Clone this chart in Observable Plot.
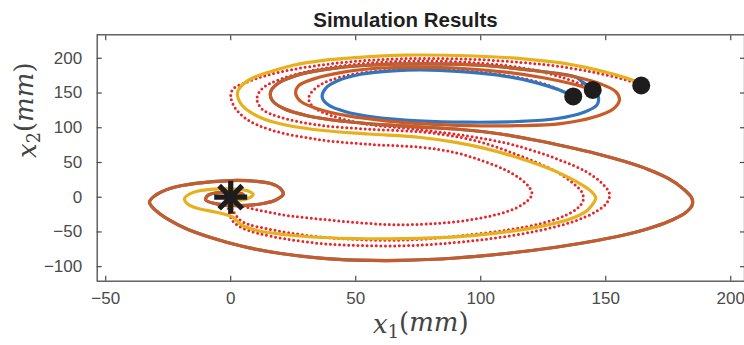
<!DOCTYPE html>
<html><head><meta charset="utf-8">
<script src="https://cdn.jsdelivr.net/npm/d3@7"></script>
<script src="https://cdn.jsdelivr.net/npm/@observablehq/plot@0.6"></script>
<style>
html,body{margin:0;padding:0;background:#fff;}
#chart svg{display:block;}
</style></head><body><div id="chart"></div>
<script>
// ---- text ----
const title = "Simulation Results";
const xLabelParts = ["x", "1", "mm"];
const yLabelParts = ["x", "2", "mm"];
const xTicks = [-50, 0, 50, 100, 150, 200];
const yTicks = [-100, -50, 0, 50, 100, 150, 200];

// ---- trajectories (x1, x2 in mm) ----
const blueTraj = [
  [137,145],[131,155],[122,165],[110,174],[95,180],[80,183],[65,182],[52,177],[43,168],[38,157],[36.6,144],
  [39,133],[46,123],[58,115],[75,110],[95,108],[115,109],[130,113],[141,122],[146.5,133],[147,145],[145,155],[141,165],
  [138,173],[122,182],[100,190],[76,192],[55,190],[38,184],[26,175],[19,164],[16,152],[16.5,140],[21,128],[31,117],
  [46,109],[62,104],[76,101],[92,97.5],[108,91],[122,82],[134,73],[146,63],[157,52],[167,40],[175,27],[181,12],[184.5,-2],
  [184.5,-12],[182,-22],[177,-32],[169,-43],[159,-53],[147,-62],[130,-72],[110,-81],[90,-87.5],[68,-91],[50,-90.5],[37,-88],
  [20,-81],[5,-71],[-8,-58],[-18,-45],[-25,-32],[-30,-19],[-32.5,-7],[-30,3],[-24,13],[-14,20],[0,24],[10,23],[16,19.6],
  [20,12],[21,4],[18,-4],[13,-9],[3,-12],[-5,-10],[-10,-4],[-9,3],[-4,7],[2,7],[5,4],[3,0],[0,0]
];
const orangeTraj = [
  [144.8,154.5],[138,162],[125,172],[110,180],[90,186],[76,187],[60,186],[45,180],[33,170],[27,160],[26,149],[28,138],
  [35,127],[47,117],[62,110],[76,106],[95,103],[115,103],[132,106],[145,115],[153,127],[155.5,140],[154,152],[148,163],
  [138,173],[122,182],[100,190],[76,192],[55,190],[38,184],[26,175],[19,164],[16,152],[16.5,140],[21,128],[31,117],
  [46,109],[62,104],[76,101],[92,97.5],[108,91],[122,82],[134,73],[146,63],[157,52],[167,40],[175,27],[181,12],[184.5,-2],
  [184.5,-12],[182,-22],[177,-32],[169,-43],[159,-53],[147,-62],[130,-72],[110,-81],[90,-87.5],[68,-91],[50,-90.5],[37,-88],
  [20,-81],[5,-71],[-8,-58],[-18,-45],[-25,-32],[-30,-19],[-32.5,-7],[-30,3],[-24,13],[-14,20],[0,24],[10,23],[16,19.6],
  [20,12],[21,4],[18,-4],[13,-9],[3,-12],[-5,-10],[-10,-4],[-9,3],[-4,7],[2,7],[5,4],[3,0],[0,0]
];
const yellowTraj = [
  [164.2,160.8],[161,168],[150,180],[134.5,192],[120,198],[108,201.5],[90,204],[70,204.5],[50,201],[37,197],[25,190],
  [17,182],[9,172],[5,163],[2.8,152],[3,142],[4.6,132],[8,122],[13,113],[22,104],[37,96],[55,91],[76,86],[90,79],
  [102,70],[113,59],[123,47],[132,34],[139,21],[144,9],[146,-1],[145,-9],[142.6,-19],[136,-31],[124,-42],[108,-51],
  [90,-57],[68,-59.5],[50,-59.5],[37,-58],[22,-54],[10.6,-48],[4,-39],[1,-29],[-4,-23],[-9.5,-19],[-15,-14],[-17.5,-9],
  [-18.5,-2],[-15,7],[-9,11],[-3,12],[3,11.5],[7,9],[9,4],[7,-1.5],[3,-4],[0,0]
];
const redRef1 = [
  [163,163],[158,169],[145,180],[130,189],[116,194],[100,198],[85,199.5],[70,199.5],[55,197],[40,192],[25,184],[14,175],
  [6,165],[1,156],[0,146],[1.5,130],[6.5,112],[16,97],[35,83],[56,76],[76,72],[90,64],[101,52],[110,39],[116,26],
  [119.5,14],[120.5,4],[119,-4],[116,-12],[111,-20],[104,-27],[95,-33],[85,-37],[76,-39],[64,-39.5],[50.7,-36.5],[37,-32],
  [24,-27],[14.5,-21],[7,-15],[2,-8],[0,0]
];
const redRef2 = [
  [134,150],[128,160],[118,170],[100,180],[80,184],[60,182],[45,174],[35,160],[31.2,143],[33,130],[40,118],[53,106],
  [76,97],[95,88],[110,78],[121,67],[132,53],[142,37],[148.5,20],[151.5,5],[150.5,-8],[146,-21],[137,-35],[122,-49],
  [103,-60],[84,-67],[68,-70],[52,-69.5],[37,-67],[22,-60],[11,-52],[4.5,-44],[1,-35],[-0.5,-23],[-1,-12],[0,0]
];
const redRef3 = [
  [142,160],[133,172],[120,184],[100,193],[76,196],[55,193],[35,184],[20,170],[12.5,156],[10.5,142],[12.5,127],[20,115],
  [35,104],[55,98],[76,94],[92,86],[104,75],[114,62],[123,49],[131,35],[137,20],[140.5,7],[141,-4],[139,-15],[134,-26],
  [125,-37],[111,-47],[93,-55],[76,-60.5],[62,-62],[48,-60.5],[35,-57],[23,-51],[14,-45],[7,-39],[3.5,-32],[1.5,-23],[0,-12],[0,0]
];
const startPoints = [[137,145],[144.8,154.5],[164.2,160.8]];
const targetPoint = [[0,0]];

// ---- colours ----
const cBlue = "#3274bf", cOrange = "#c95b26", cYellow = "#e6b11d", cRed = "#e8262a";

// MATLAB-style '*' marker: plus + cross
const asterisk = {
  draw(ctx, size) {
    const r = Math.sqrt(size / Math.PI);
    const d = r * 0.7;
    ctx.moveTo(0, -r); ctx.lineTo(0, r);
    ctx.moveTo(-r, 0); ctx.lineTo(r, 0);
    ctx.moveTo(-d, -d); ctx.lineTo(d, d);
    ctx.moveTo(-d, d); ctx.lineTo(d, -d);
  }
};

const W = 744, H = 345;
const lineOpts = (c) => ({x: d => d[0], y: d => d[1], stroke: c, strokeWidth: 3.2, curve: "catmull-rom", strokeLinejoin: "round"});
const dotOpts = {x: d => d[0], y: d => d[1], stroke: cRed, strokeWidth: 3, curve: "catmull-rom", strokeDasharray: "0 4.6", strokeLinecap: "round"};
const axisColor = "#4b4b4b";
const tickFont = 17;

const plot = Plot.plot({
  width: W, height: H,
  marginLeft: 96.7, marginRight: 0, marginTop: 34.3, marginBottom: 64.3,
  style: {fontFamily: "'Liberation Sans', Arial, Helvetica, sans-serif", background: "#fff", overflow: "visible"},
  x: {domain: [-53.4, 205.5], ticks: xTicks},
  y: {domain: [-120.9, 233.8], ticks: yTicks},
  marks: [
    Plot.line(redRef1, dotOpts),
    Plot.line(redRef2, dotOpts),
    Plot.line(redRef3, dotOpts),
    Plot.line(blueTraj, lineOpts(cBlue)),
    Plot.line(orangeTraj, lineOpts(cOrange)),
    Plot.line(yellowTraj, lineOpts(cYellow)),
    Plot.dot(startPoints, {x: d => d[0], y: d => d[1], r: 9, fill: "#1e1c1c", stroke: "none"}),
    Plot.dot(targetPoint, {x: d => d[0], y: d => d[1], r: 16.5, symbol: asterisk, stroke: "#1e1c1c", strokeWidth: 5.2, fill: "none"}),
    Plot.frame({stroke: axisColor, strokeWidth: 1.3}),
    Plot.axisX(xTicks, {anchor: "bottom", tickSize: -5, tickPadding: 16, fontSize: tickFont, fill: axisColor, stroke: axisColor, label: null, strokeWidth: 1.2}),
    Plot.axisX(xTicks, {anchor: "top", tickSize: -5, tickFormat: () => "", label: null, stroke: axisColor, strokeWidth: 1.2}),
    Plot.axisY(yTicks, {anchor: "left", tickSize: -5, tickPadding: 20, fontSize: tickFont, fill: axisColor, stroke: axisColor, label: null, strokeWidth: 1.2}),
    Plot.axisY(yTicks, {anchor: "right", tickSize: -5, tickFormat: () => "", label: null, stroke: axisColor, strokeWidth: 1.2}),
    Plot.text([title], {frameAnchor: "top-left", dx: 308.3, dy: -22, fontSize: 20.5, fontWeight: "bold", fill: "#1f1f1f", textAnchor: "middle", className: "ttl"}),
    Plot.text([xLabelParts.join("")], {frameAnchor: "bottom", dy: 52, fontSize: 26, fill: "#444", className: "xlab"}),
    Plot.text([yLabelParts.join("")], {frameAnchor: "left", dx: -70, rotate: -90, fontSize: 26, fill: "#444", className: "ylab"})
  ]
});

function texify(node, parts) {
  const t = d3.select(node);
  t.text(null).attr("font-family", "'DejaVu Serif', 'Liberation Serif', serif");
  t.append("tspan").attr("font-style", "italic").text(parts[0]);
  t.append("tspan").attr("font-size", "0.68em").attr("dy", "0.28em").text(parts[1]);
  t.append("tspan").attr("dy", "-0.28em").text("(");
  t.append("tspan").attr("font-style", "italic").text(parts[2]);
  t.append("tspan").text(")");
}
d3.select(plot).selectAll(".xlab text").each(function() { texify(this, xLabelParts); });
d3.select(plot).selectAll(".ylab text").each(function() { texify(this, yLabelParts); });

document.getElementById("chart").appendChild(plot);
</script></body></html>
